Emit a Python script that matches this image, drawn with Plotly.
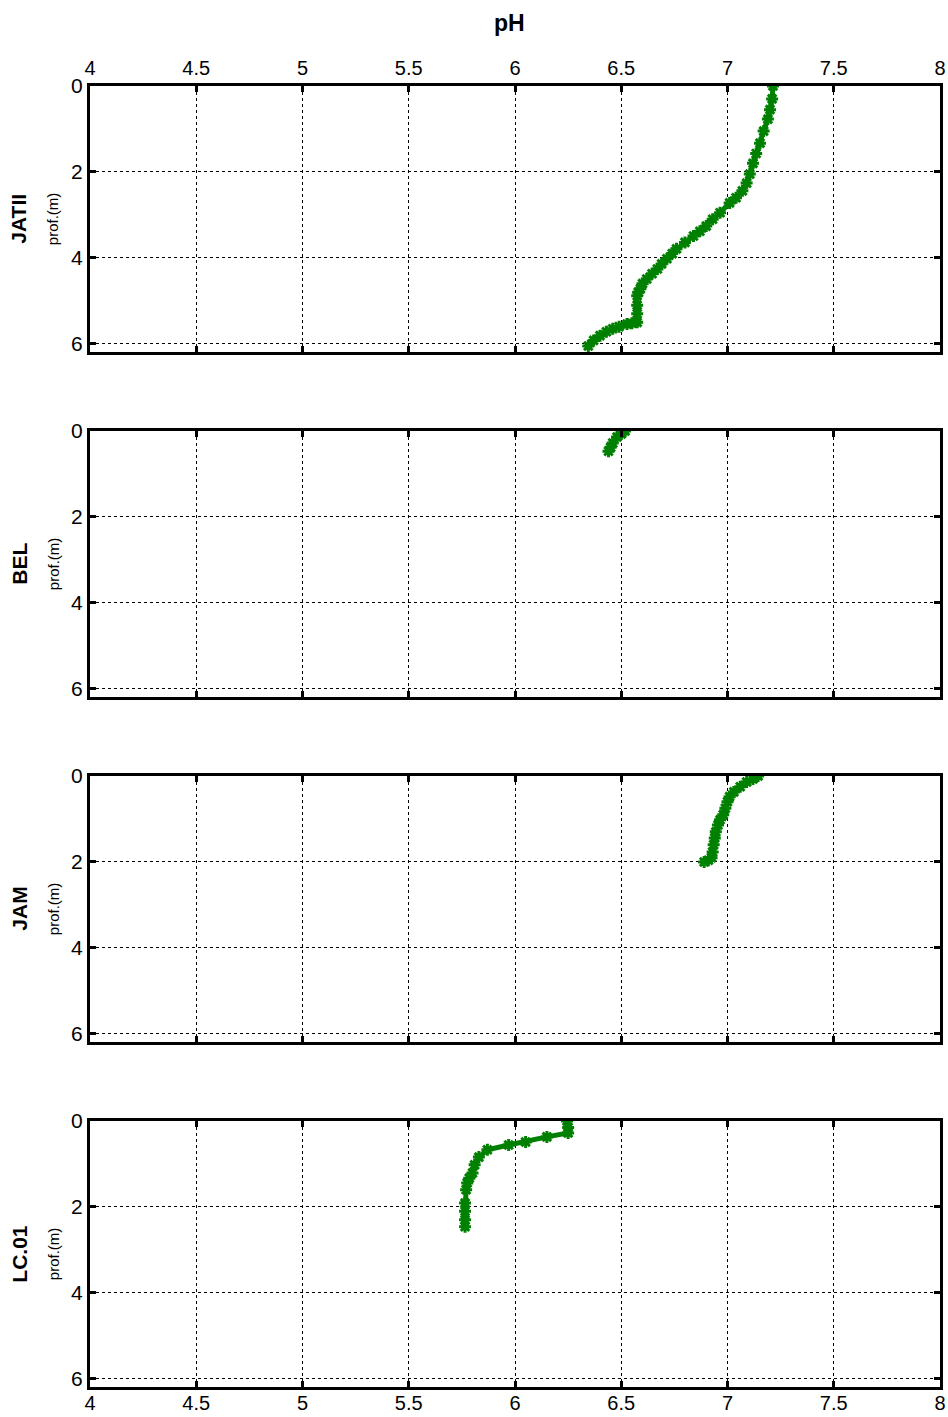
import plotly.graph_objects as go
from plotly.subplots import make_subplots

# --- data ---
stations = ["JATII", "BEL", "JAM", "LC.01"]

ph_jatii = [7.214, 7.21, 7.20, 7.19, 7.17, 7.153, 7.135, 7.12, 7.105, 7.09, 7.07, 7.04, 7.01,
            6.965, 6.93, 6.90, 6.87, 6.84, 6.80, 6.76, 6.74, 6.715, 6.69, 6.67, 6.645, 6.62,
            6.60, 6.59, 6.58, 6.575, 6.575, 6.575, 6.575, 6.55, 6.527, 6.49, 6.46, 6.43,
            6.40, 6.37, 6.345]
dep_jatii = [0.0, 0.3, 0.55, 0.77, 1.05, 1.33, 1.57, 1.8, 2.05, 2.26, 2.44, 2.6, 2.72,
             2.95, 3.1, 3.26, 3.38, 3.49, 3.64, 3.79, 3.9, 4.02, 4.14, 4.26, 4.37, 4.49,
             4.6, 4.72, 4.8, 4.88, 5.1, 5.3, 5.5, 5.52, 5.54, 5.6, 5.65, 5.72, 5.81, 5.92,
             6.05]

ph_bel = [6.518, 6.50, 6.48, 6.46, 6.45, 6.44]
dep_bel = [0.0, 0.07, 0.14, 0.28, 0.38, 0.47]

ph_jam = [7.144, 7.12, 7.09, 7.06, 7.03, 7.01, 7.0, 6.99, 6.98, 6.965, 6.955, 6.945,
          6.94, 6.935, 6.93, 6.925, 6.91, 6.89]
dep_jam = [0.0, 0.07, 0.14, 0.25, 0.37, 0.48, 0.6, 0.75, 0.9, 1.02, 1.14, 1.3,
           1.44, 1.6, 1.77, 1.9, 1.96, 2.0]

ph_lc = [6.245, 6.25, 6.25, 6.15, 6.05, 5.97, 5.87, 5.83, 5.81, 5.80, 5.785, 5.775,
         5.77, 5.765, 5.765, 5.765, 5.765]
dep_lc = [0.0, 0.15, 0.28, 0.37, 0.49, 0.56, 0.67, 0.84, 1.02, 1.21, 1.33, 1.44,
          1.6, 1.91, 2.1, 2.3, 2.46]

profiles = [(ph_jatii, dep_jatii), (ph_bel, dep_bel), (ph_jam, dep_jam), (ph_lc, dep_lc)]

x_ticks = [4, 4.5, 5, 5.5, 6, 6.5, 7, 7.5, 8]
x_tick_text = ["4", "4.5", "5", "5.5", "6", "6.5", "7", "7.5", "8"]
y_ticks = [0, 2, 4, 6]

# --- figure ---
W, H = 948, 1417
ML, MR, MT, MB = 90, 8, 86, 30
fig = make_subplots(rows=4, cols=1)

plot_h = H - MT - MB
panel_px = [(86, 352), (431, 697), (776, 1042), (1121, 1387)]
green = "#008000"
FONT = "Liberation Sans, Arial"

for i, (ph, dep) in enumerate(profiles):
    r = i + 1
    fig.add_trace(go.Scatter(
        x=ph, y=dep, mode="lines+markers",
        line=dict(color=green, width=5),
        marker=dict(symbol="asterisk-open", size=10, color=green,
                    line=dict(color=green, width=3)),
        showlegend=False), row=r, col=1)
    top, bot = panel_px[i]
    y0 = (H - MB - bot) / plot_h
    y1 = (H - MB - top) / plot_h
    yname = "yaxis" if r == 1 else f"yaxis{r}"
    xname = "xaxis" if r == 1 else f"xaxis{r}"
    fig.layout[yname].update(domain=[y0, y1])
    fig.layout[xname].update(domain=[0, 1])

    show_x_labels = (r == 1 or r == 4)
    fig.update_xaxes(
        range=[4, 8], tickvals=x_ticks, ticktext=x_tick_text,
        showticklabels=show_x_labels, side="top" if r == 1 else "bottom",
        ticks="inside", ticklen=6, tickwidth=3, tickcolor="black",
        showline=True, linewidth=3, linecolor="black", mirror="ticks",
        showgrid=True, gridcolor="black", gridwidth=1, griddash="dot",
        zeroline=False, automargin=False,
        ticklabelstandoff=0 if r == 1 else -4,
        tickfont=dict(family=FONT, size=20, color="black"),
        row=r, col=1)
    fig.update_yaxes(
        range=[6.19, 0], tickvals=y_ticks,
        ticks="inside", ticklen=6, tickwidth=3, tickcolor="black",
        showline=True, linewidth=3, linecolor="black", mirror="ticks",
        showgrid=True, gridcolor="black", gridwidth=1, griddash="dot",
        zeroline=False, automargin=False,
        tickfont=dict(family=FONT, size=21, color="black"),
        row=r, col=1)

    yc = (y0 + y1) / 2
    fig.add_annotation(text=f"<b>{stations[i]}</b>", textangle=-90,
                       xref="paper", yref="paper", x=-0.068, y=yc,
                       xanchor="right", yanchor="middle", showarrow=False,
                       font=dict(family=FONT, size=21, color="black"))
    fig.add_annotation(text="prof.(m)", textangle=-90,
                       xref="paper", yref="paper", x=-0.031, y=yc,
                       xanchor="right", yanchor="middle", showarrow=False,
                       font=dict(family=FONT, size=15, color="black"))

fig.add_annotation(text="<b>pH</b>", xref="paper", yref="paper", x=0.494, y=1.0,
                   yshift=63, xanchor="center", yanchor="middle", showarrow=False,
                   font=dict(family=FONT, size=23, color="black"))

fig.update_layout(width=W, height=H, margin=dict(l=ML, r=MR, t=MT, b=MB, autoexpand=False),
                  plot_bgcolor="white", paper_bgcolor="white")

fig.write_html("out.html")
